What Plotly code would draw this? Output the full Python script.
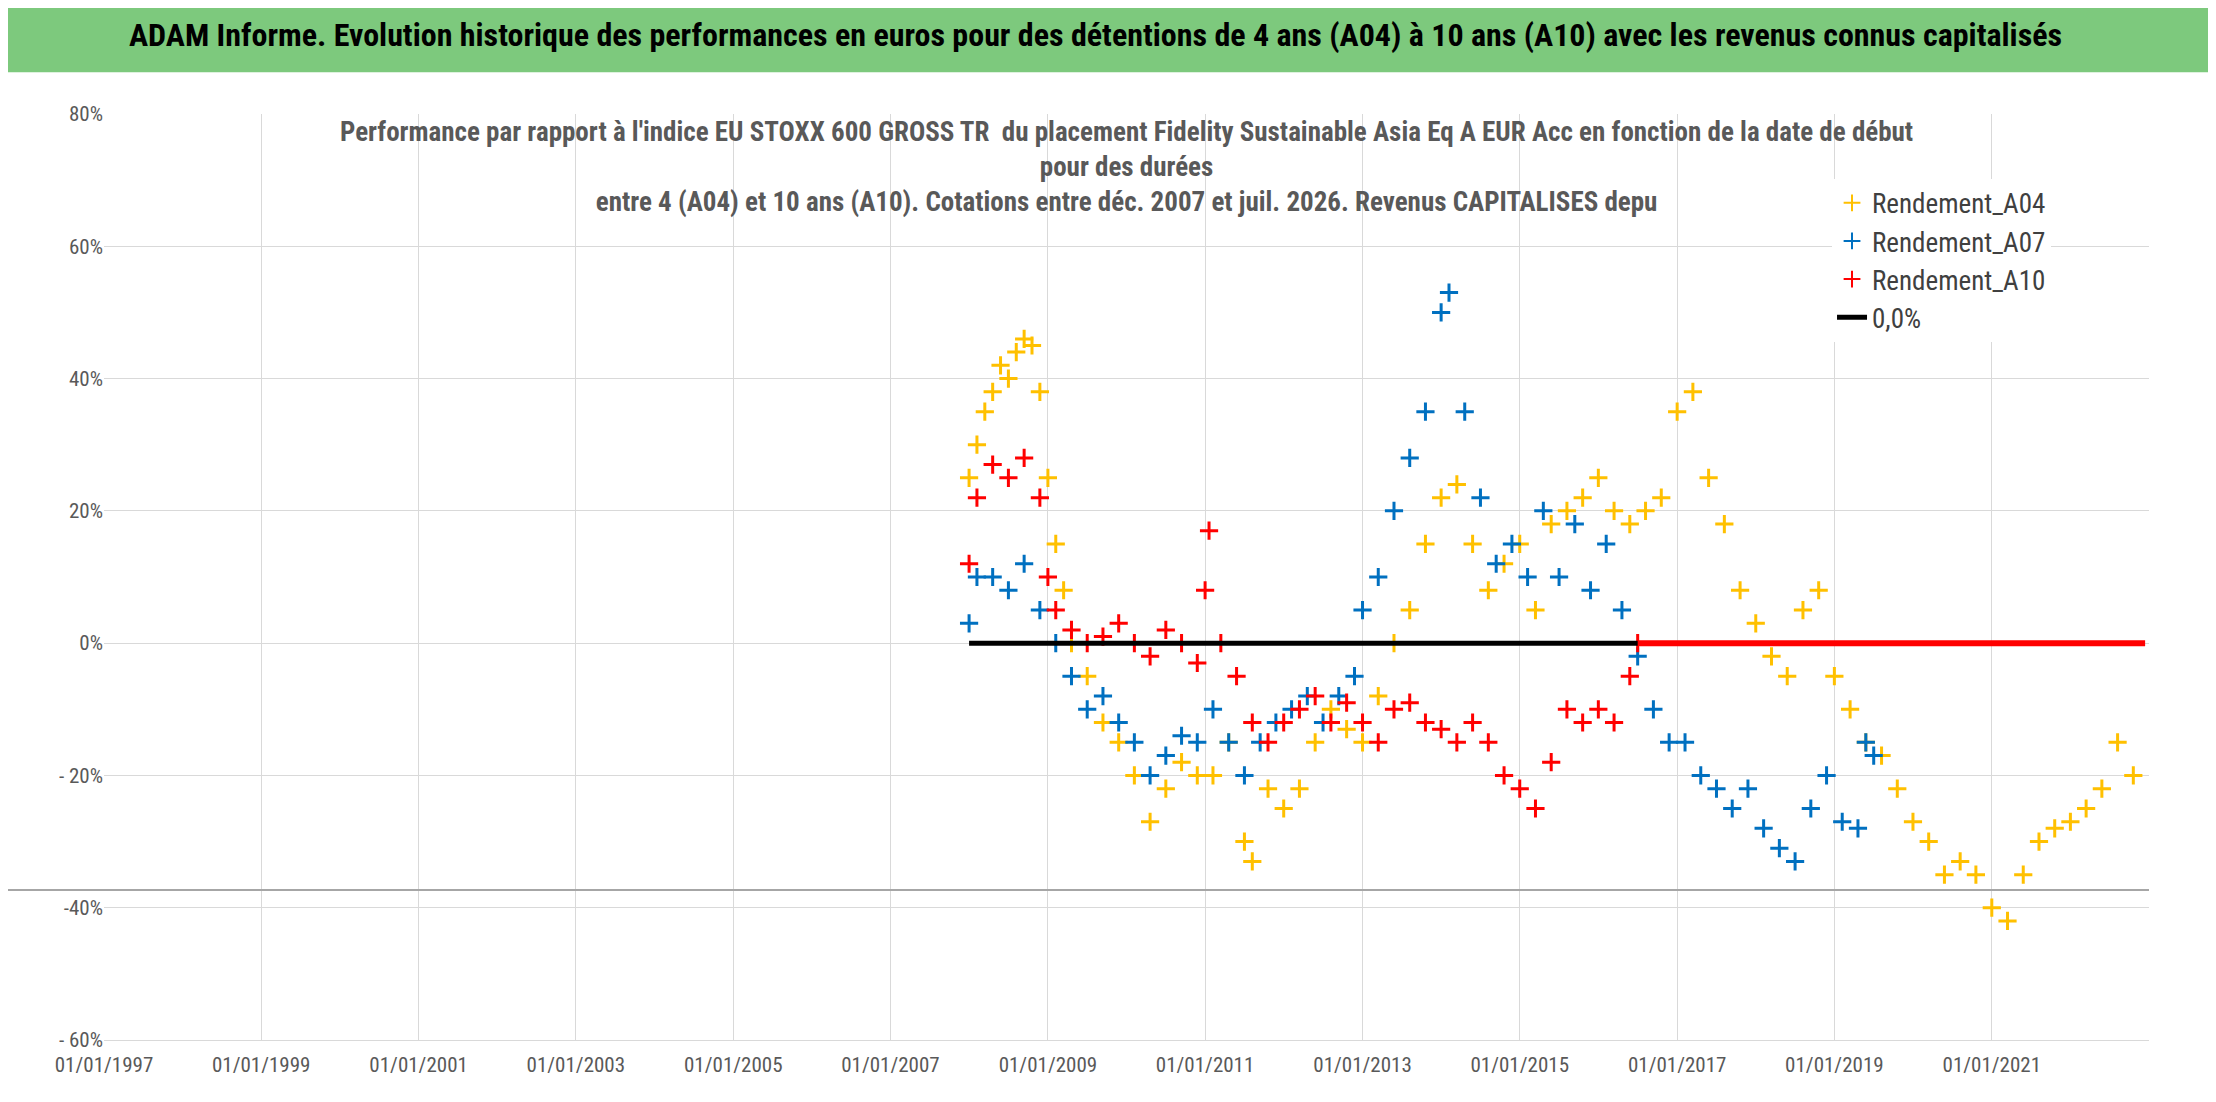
import pandas as pd
import plotly.graph_objects as go

# dates in decimal years, values in %
a04_t = [2008.0, 2008.1, 2008.2, 2008.3, 2008.4, 2008.5, 2008.6, 2008.7, 2008.8, 2008.9, 2009.0, 2009.1, 2009.2, 2009.3,
         2009.5, 2009.7, 2009.9, 2010.1, 2010.3, 2010.5, 2010.7, 2010.9, 2011.1, 2011.3, 2011.5, 2011.6, 2011.8,
         2012.0, 2012.2, 2012.4, 2012.6, 2012.8, 2013.0, 2013.2, 2013.4, 2013.6, 2013.8, 2014.0, 2014.2, 2014.4,
         2014.6, 2014.8, 2015.0, 2015.2, 2015.4, 2015.6, 2015.8, 2016.0, 2016.2, 2016.4, 2016.6, 2016.8, 2017.0,
         2017.2, 2017.4, 2017.6, 2017.8, 2018.0, 2018.2, 2018.4, 2018.6, 2018.8, 2019.0, 2019.2, 2019.4, 2019.6,
         2019.8, 2020.0, 2020.2, 2020.4, 2020.6, 2020.8, 2021.0, 2021.2, 2021.4, 2021.6, 2021.8, 2022.0, 2022.2,
         2022.4, 2022.6, 2022.8]
a04_v = [25, 30, 35, 38, 42, 40, 44, 46, 45, 38, 25, 15, 8, 0,
         -5, -12, -15, -20, -27, -22, -18, -20, -20, -15, -30, -33, -22,
         -25, -22, -15, -10, -13, -15, -8, 0, 5, 15, 22, 24, 15,
         8, 12, 15, 5, 18, 20, 22, 25, 20, 18, 20, 22, 35,
         38, 25, 18, 8, 3, -2, -5, 5, 8, -5, -10, -15, -17,
         -22, -27, -30, -35, -33, -35, -40, -42, -35, -30, -28, -27, -25,
         -22, -15, -20]

a07_t = [2008.0, 2008.1, 2008.3, 2008.5, 2008.7, 2008.9, 2009.1, 2009.3, 2009.5, 2009.7, 2009.9, 2010.1, 2010.3,
         2010.5, 2010.7, 2010.9, 2011.1, 2011.3, 2011.5, 2011.7, 2011.9, 2012.1, 2012.3, 2012.5, 2012.7, 2012.9,
         2013.0, 2013.2, 2013.4, 2013.6, 2013.8, 2014.0, 2014.1, 2014.3, 2014.5, 2014.7, 2014.9, 2015.1, 2015.3,
         2015.5, 2015.7, 2015.9, 2016.1, 2016.3, 2016.5, 2016.7, 2016.9, 2017.1, 2017.3, 2017.5, 2017.7, 2017.9,
         2018.1, 2018.3, 2018.5, 2018.7, 2018.9, 2019.1, 2019.3, 2019.4, 2019.5]
a07_v = [3, 10, 10, 8, 12, 5, 0, -5, -10, -8, -12, -15, -20,
         -17, -14, -15, -10, -15, -20, -15, -12, -10, -8, -12, -8, -5,
         5, 10, 20, 28, 35, 50, 53, 35, 22, 12, 15, 10, 20,
         10, 18, 8, 15, 5, -2, -10, -15, -15, -20, -22, -25, -22,
         -28, -31, -33, -25, -20, -27, -28, -15, -17]

a10_t = [2008.0, 2008.1, 2008.3, 2008.5, 2008.7, 2008.9, 2009.0, 2009.1, 2009.3, 2009.5, 2009.7, 2009.9, 2010.1,
         2010.3, 2010.5, 2010.7, 2010.9, 2011.0, 2011.05, 2011.2, 2011.4, 2011.6, 2011.8, 2012.0, 2012.2, 2012.4,
         2012.6, 2012.8, 2013.0, 2013.2, 2013.4, 2013.6, 2013.8, 2014.0, 2014.2, 2014.4, 2014.6, 2014.8, 2015.0,
         2015.2, 2015.4, 2015.6, 2015.8, 2016.0, 2016.2, 2016.4, 2016.5]
a10_v = [12, 22, 27, 25, 28, 22, 10, 5, 2, 0, 1, 3, 0,
         -2, 2, 0, -3, 8, 17, 0, -5, -12, -15, -12, -10, -8,
         -12, -9, -12, -15, -10, -9, -12, -13, -15, -12, -15, -20, -22,
         -25, -18, -10, -12, -10, -12, -5, 0]
a10_zero_t = [2016.5, 2022.95]
a10_zero_v = [0, 0]

zero_t = [2008.0, 2016.5]
zero_v = [0, 0]

tick_years = list(range(1997, 2023, 2))


def to_date(years):
    return [pd.Timestamp(int(y), 1, 1) + pd.Timedelta(days=(y - int(y)) * 365.25) for y in years]


def pct(vals):
    return [v / 100 for v in vals]


def marker(color):
    return dict(symbol="cross-thin-open", size=13, color=color, line=dict(width=3, color=color))


fig = go.Figure()
fig.add_trace(go.Scatter(x=to_date(a04_t), y=pct(a04_v), mode="markers", name="Rendement_A04",
                         marker=marker("#FFC000")))
fig.add_trace(go.Scatter(x=to_date(a07_t), y=pct(a07_v), mode="markers", name="Rendement_A07",
                         marker=marker("#0070C0")))
fig.add_trace(go.Scatter(x=to_date(a10_t), y=pct(a10_v), mode="markers", name="Rendement_A10",
                         marker=marker("#FF0000")))
fig.add_trace(go.Scatter(x=to_date(a10_zero_t), y=a10_zero_v, mode="lines", showlegend=False,
                         line=dict(color="#FF0000", width=6)))
fig.add_trace(go.Scatter(x=to_date(zero_t), y=zero_v, mode="lines", name="0,0%",
                         line=dict(color="black", width=5)))

font = "Liberation Sans Narrow, Roboto Condensed, Arial Narrow, sans-serif"
fig.update_layout(
    width=2216, height=1102, paper_bgcolor="white", plot_bgcolor="white",
    margin=dict(l=96, r=75, t=106, b=70),
    font=dict(family=font, color="#595959", size=21),
    legend=dict(x=0.845, y=0.93, xanchor="left", yanchor="top", bgcolor="white",
                font=dict(size=27, color="#404040"), tracegroupgap=20, itemsizing="constant"),
    xaxis=dict(type="date", range=[pd.Timestamp(1997, 1, 1), pd.Timestamp(2023, 1, 1)],
               tickvals=[pd.Timestamp(y, 1, 1) for y in tick_years], tickformat="%d/%m/%Y",
               showgrid=True, gridcolor="#D9D9D9", showline=True, linecolor="#D9D9D9", zeroline=False,
               ticklabelstandoff=6),
    yaxis=dict(range=[-0.6, 0.8], showgrid=True, gridcolor="#D9D9D9", zeroline=False,
               tickvals=[-0.6, -0.4, -0.2, 0, 0.2, 0.4, 0.6, 0.8],
               ticktext=["- 60%", "-40%", "- 20%", "0%", "20%", "40%", "60%", "80%"]),
    shapes=[
        dict(type="rect", xref="paper", yref="paper", x0=-0.05, x1=1.04, y0=1.045, y1=1.12,
             fillcolor="#7DC97D", line=dict(width=0), layer="below"),
        dict(type="line", xref="paper", yref="paper", x0=-0.05, x1=1.0, y0=0.162, y1=0.162,
             line=dict(color="#A6A6A6", width=2)),
    ],
    annotations=[
        dict(text="<b>ADAM Informe. Evolution historique des performances en euros pour des détentions de 4 ans (A04) à 10 ans (A10) avec les revenus connus capitalisés</b>",
             xref="paper", yref="paper", x=0.485, y=1.085, showarrow=False, yanchor="middle",
             font=dict(size=32, color="black", family=font)),
        dict(text="<b>Performance par rapport à l'indice EU STOXX 600 GROSS TR  du placement Fidelity Sustainable Asia Eq A EUR Acc en fonction de la date de début<br>pour des durées<br>entre 4 (A04) et 10 ans (A10). Cotations entre déc. 2007 et juil. 2026. Revenus CAPITALISES depu</b>",
             xref="paper", yref="paper", x=0.5, y=1.0, showarrow=False, yanchor="top",
             font=dict(size=27, color="#595959", family=font)),
    ],
)
fig.write_html("out.html")
